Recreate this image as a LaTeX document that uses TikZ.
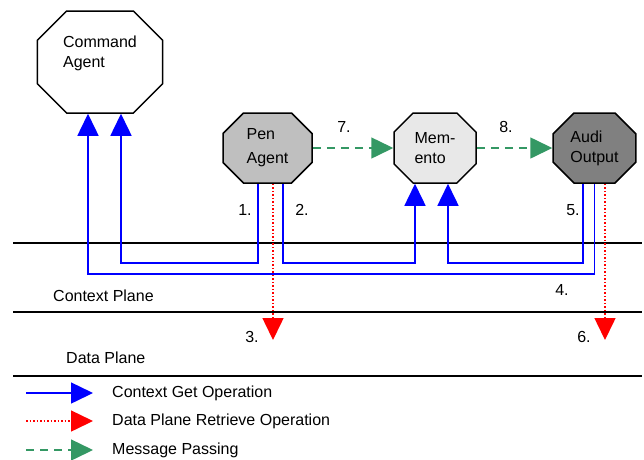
\documentclass[tikz,border=0pt]{standalone}
\usepackage{fontspec}
\setmainfont{Liberation Sans}
\usetikzlibrary{shapes.misc,arrows.meta}
\colorlet{get line}{blue}
\colorlet{retrieve line}{red}
\definecolor{msg line}{RGB}{52,152,100}
\definecolor{pen fill}{gray}{0.75}
\definecolor{memo fill}{gray}{0.91}
\definecolor{audi fill}{gray}{0.5}
\tikzset{agent/.style={chamfered rectangle, draw, line width=1.5pt, align=left, inner sep=0pt},
    ctxget/.style={draw=get line, line width=1.5pt, ->},
    retrieve/.style={draw=retrieve line, line width=1.5pt, dash pattern=on 1.5pt off 2pt, ->},
    msg/.style={draw=msg line, line width=1.5pt, dash pattern=on 8pt off 6pt, ->},
    plane/.style={draw=black, line width=1.5pt}}

\begin{document}
\begin{tikzpicture}[x=1pt, y=-1pt, >={Triangle[length=22pt,width=21pt]},
    every node/.style={font=\fontsize{16}{20}\selectfont}]
    \useasboundingbox (0,0) rectangle (644,459);
    % planes
    \draw[plane] (13,243) -- (642,243);
    \draw[plane] (13,312) -- (642,312);
    \draw[plane] (13,376) -- (642,376);
    \node[anchor=west, inner sep=0pt] (ctxplane) at (53,296) {Context Plane};
    \node[anchor=west, inner sep=0pt] (dataplane) at (66,358) {Data Plane};

    % agents
    \node[agent, fill=white, minimum width=120pt, minimum height=102pt,
        chamfered rectangle xsep=30pt] (cmd) at (100,62) {Command\\Agent\\~};
    \node[agent, fill=pen fill, minimum width=89pt, minimum height=70pt,
        chamfered rectangle xsep=17pt] (pen) at (267.5,148) {Pen\\[4pt]Agent};
    \node[agent, fill=memo fill, minimum width=82pt, minimum height=70pt,
        chamfered rectangle xsep=20pt] (memento) at (435,148) {Mem-\\ento};
    \node[agent, fill=audi fill, minimum width=81pt, minimum height=70pt,
        chamfered rectangle xsep=20pt] (audi) at (594.5,148) {Audi\\Output};

    % context get
    \draw[ctxget] ([xshift=-9.5pt]pen.south) -- ++(0,79) -| ([xshift=21pt]cmd.south);
    \draw[ctxget] ([xshift=15.5pt]pen.south) -- ++(0,79) -| ([xshift=-20pt]memento.south);
    \draw[ctxget] (audi.south) -- ++(0,90) -| ([xshift=-12pt]cmd.south);
    \draw[ctxget] ([xshift=-11.5pt]audi.south) -- ++(0,79) -| ([xshift=13pt]memento.south);

    % data plane retrieve
    \coordinate (penstore) at (273,340);
    \coordinate (audistore) at (605,340);
    \draw[retrieve] (pen.south -| penstore) -- (penstore);
    \draw[retrieve] (audi.south -| audistore) -- (audistore);

    % message passing
    \draw[msg] (pen.east) -- (memento.west);
    \draw[msg] (memento.east) -- (audi.west);

    % step numbers
    \foreach \n/\p in {1/{245,210}, 2/{302,210}, 3/{252,337}, 4/{562,290},
        5/{573,210}, 6/{584,337}, 7/{344,127}, 8/{506,127}}
        \node[inner sep=0pt] (step\n) at (\p) {\n.};

    % legend
    \foreach \s/\y/\t in {ctxget/393/Context Get Operation,
        retrieve/421/Data Plane Retrieve Operation, msg/450/Message Passing} {
        \coordinate (key-\s) at (26,\y);
        \node[anchor=west, inner sep=0pt] (txt-\s) at (112,\y) {\t};
        \draw[\s] (key-\s) -- ([xshift=-19pt]txt-\s.west);
    }
\end{tikzpicture}
\end{document}
